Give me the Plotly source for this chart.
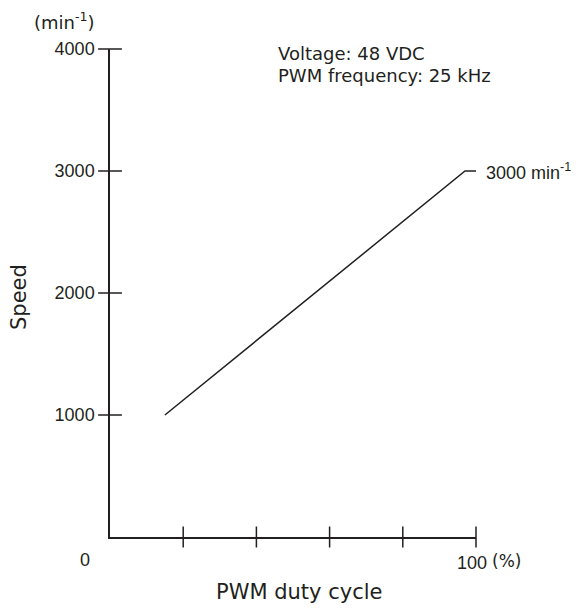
import plotly.graph_objects as go

# ---- data ----
duty_pct = [15, 97, 100]
speed_rpm = [1000, 3000, 3000]
x_tick_vals = [20, 40, 60, 80, 100]
x_label_vals = [100]
x_label_text = ["100"]
y_tick_vals = [1000, 2000, 3000, 4000]
y_tick_text = ["1000", "2000", "3000", "4000"]
end_label_value = 3000
conditions = ["Voltage: 48 VDC", "PWM frequency: 25 kHz"]

INK = "#231f20"
OFF = 8  # page body margin
W, H = 579 - OFF, 610 - OFF
# reference pixel geometry (window coordinates)
X0, X100, Y0, Y4000 = 110, 476, 537, 49
L, T = X0 - OFF, Y4000 - OFF
R = W - (X100 - OFF)
B = H - (Y0 - OFF)
PW, PH = W - L - R, H - T - B
TEXT_FONT = "DejaVu Sans"
NUM_FONT = "Liberation Sans, Arial"


def px(xp):
    return (xp - X0) / PW


def py(yp):
    return (Y0 - yp) / PH


fig = go.Figure()
fig.add_trace(go.Scatter(x=duty_pct, y=speed_rpm, mode="lines",
                         line=dict(color=INK, width=1.5),
                         hoverinfo="skip", showlegend=False))
# crossing tick marks (both sides of each axis line)
fig.add_trace(go.Scatter(x=x_tick_vals, y=[0] * len(x_tick_vals), mode="markers",
                         marker=dict(symbol="line-ns", size=15,
                                     line=dict(color=INK, width=1.5)),
                         cliponaxis=False, hoverinfo="skip", showlegend=False))
fig.add_trace(go.Scatter(x=[0] * len(y_tick_vals), y=y_tick_vals, mode="markers",
                         marker=dict(symbol="line-ew", size=17,
                                     line=dict(color=INK, width=1.5)),
                         cliponaxis=False, hoverinfo="skip", showlegend=False))

axis_common = dict(showgrid=False, zeroline=False, showline=True,
                   linecolor=INK, linewidth=1.5, tickcolor="rgba(0,0,0,0)",
                   tickwidth=1.5)

fig.update_layout(
    width=W, height=H,
    margin=dict(l=L, r=R, t=T, b=B, pad=0),
    paper_bgcolor="white", plot_bgcolor="white",
    xaxis=dict(range=[0, 100], tickmode="array", tickvals=x_label_vals,
               ticktext=x_label_text, ticks="outside", ticklen=7,
               tickfont=dict(family=NUM_FONT, size=18, color=INK),
               ticklabelshift=-4, ticklabelstandoff=2,
               **axis_common),
    yaxis=dict(range=[0, 4000], tickmode="array", tickvals=y_tick_vals,
               ticktext=y_tick_text, ticks="outside", ticklen=8,
               tickfont=dict(family=NUM_FONT, size=18, color=INK),
               ticklabelstandoff=2,
               **axis_common),
)

ann = []
# origin "0"
ann.append(dict(text="0", xref="paper", yref="paper", x=px(85), y=py(560),
                xanchor="center", yanchor="middle", showarrow=False,
                font=dict(family=NUM_FONT, size=18, color=INK)))
# (%)
ann.append(dict(text="(%)", xref="paper", yref="paper", x=px(490), y=py(561),
                xanchor="left", yanchor="middle", showarrow=False,
                font=dict(family=TEXT_FONT, size=17, color=INK)))
# (min-1)
ann.append(dict(text="(min<sup>-1</sup>)", xref="paper", yref="paper",
                x=px(64), y=py(21), xanchor="center", yanchor="middle",
                showarrow=False, font=dict(family=TEXT_FONT, size=18, color=INK)))
# axis titles
ann.append(dict(text="Speed", xref="paper", yref="paper", x=px(19), y=py(297),
                xanchor="center", yanchor="middle", textangle=-90,
                showarrow=False, font=dict(family=TEXT_FONT, size=21, color=INK)))
ann.append(dict(text="PWM duty cycle", xref="paper", yref="paper", x=px(299),
                y=py(592), xanchor="center", yanchor="middle", showarrow=False,
                font=dict(family=TEXT_FONT, size=21, color=INK)))
# conditions
for i, line in enumerate(conditions):
    ann.append(dict(text=line, xref="paper", yref="paper", x=px(277),
                    y=py(54 + 21 * i), xanchor="left", yanchor="middle",
                    showarrow=False, borderpad=0,
                    font=dict(family=TEXT_FONT, size=18, color=INK)))
# end-point label
ann.append(dict(text=f"{end_label_value} min<sup>-1</sup>",
                x=duty_pct[-1], y=speed_rpm[-1], xref="x", yref="y",
                xanchor="left", yanchor="middle", xshift=8, showarrow=False,
                font=dict(family=NUM_FONT, size=18, color=INK)))
fig.update_layout(annotations=ann)

fig.write_html("out.html")
